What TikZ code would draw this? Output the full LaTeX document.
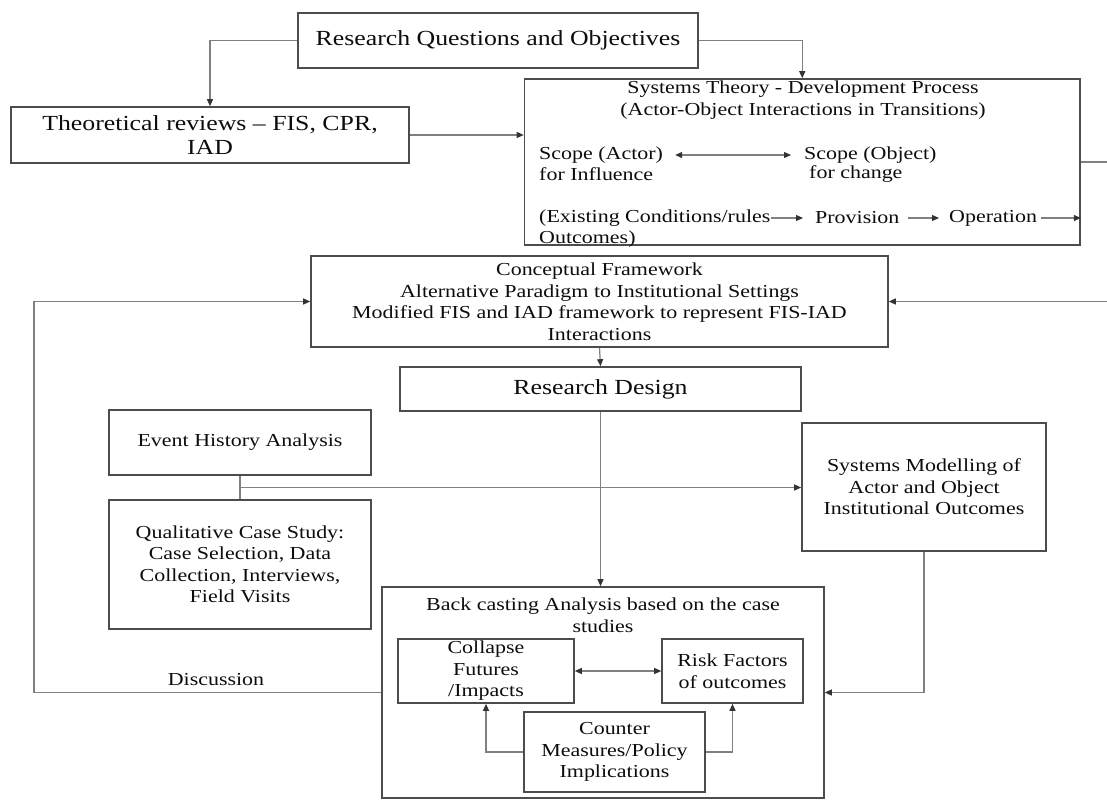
\documentclass[tikz,border=0pt]{standalone}
\usepackage{fontspec}
\setmainfont{Liberation Serif}[FakeStretch=1.2]
\usetikzlibrary{arrows.meta,calc}
\definecolor{bordc}{gray}{0.3}
\definecolor{linec}{gray}{0.5}
\definecolor{tipc}{gray}{0.2}
\definecolor{txtc}{gray}{0.05}
\newcommand\normsz{\fontsize{18.3}{21.5}\selectfont}
\newcommand\bigsz{\fontsize{21.5}{24}\selectfont}
\begin{document}
\begin{tikzpicture}[x=1pt,y=-1pt,
  box/.style={draw=bordc,line width=1.6pt,rectangle,inner sep=0pt,align=center,text=txtc,font=\normsz},
  big/.style={font=\bigsz},
  lbl/.style={inner sep=0pt,text=txtc,font=\normsz},
  conn/.style={draw=linec,line width=1.2pt},
  arr/.style={conn,-{Triangle[length=7pt,width=6pt,color=tipc]}},
  darr/.style={conn,{Triangle[length=7pt,width=6pt,color=tipc]}-{Triangle[length=7pt,width=6pt,color=tipc]}},
]
\fill[white] (0,0) rectangle (1107,800);
\useasboundingbox (0,0) rectangle (1107,800);

\node[box,big,minimum width=400pt,minimum height=55pt] (rq) at (498,40.5) {Research Questions and Objectives};
\node[box,big,minimum width=398pt,minimum height=56pt] (th) at (210,135) {Theoretical reviews -- FIS, CPR,\\IAD};

\node[box,minimum width=555.5pt,minimum height=166pt] (st) at (802.25,162) {};
\node[lbl,align=center] (stt) at (803,100) {Systems Theory - Development Process\\(Actor-Object Interactions in Transitions)};
\node[lbl,anchor=west] (sa1) at (539,155) {Scope (Actor)};
\node[lbl,anchor=west] (sa2) at (539,174) {for Influence};
\node[lbl,anchor=west] (so1) at (804,155) {Scope (Object)};
\node[lbl,anchor=west] (so2) at (809,174) {for change};
\node[lbl,anchor=west] (e1) at (539,218) {(Existing Conditions/rules};
\node[lbl,anchor=west] (e2) at (539,239) {Outcomes)};
\node[lbl,anchor=west] (pv) at (815,218) {Provision};
\node[lbl,anchor=west] (op) at (949,218) {Operation};

\node[box,minimum width=577pt,minimum height=91pt] (cf) at (599.5,301.5) {Conceptual Framework\\Alternative Paradigm to Institutional Settings\\Modified FIS and IAD framework to represent FIS-IAD\\Interactions};
\node[box,big,minimum width=401pt,minimum height=44pt] (rd) at (600.5,389) {Research Design};
\node[box,minimum width=262pt,minimum height=65pt] (eha) at (240,442.5) {Event History Analysis};
\node[box,minimum width=262pt,minimum height=129pt] (qcs) at (240,564.5) {Qualitative Case Study:\\Case Selection, Data\\Collection, Interviews,\\Field Visits};
\node[box,minimum width=244pt,minimum height=128pt] (sm) at (924,487) {Systems Modelling of\\Actor and Object\\Institutional Outcomes};
\node[box,minimum width=442pt,minimum height=211pt] (bc) at (603,692.5) {};
\node[lbl,align=center] (bct) at (603,615) {Back casting Analysis based on the case\\studies};
\node[box,minimum width=176pt,minimum height=64pt] (cl) at (486,671) {Collapse\\Futures\\/Impacts};
\node[box,minimum width=141pt,minimum height=64pt] (rk) at (732.5,671) {Risk Factors\\of outcomes};
\node[box,minimum width=181pt,minimum height=80pt] (cm) at (614.5,752) {Counter\\Measures/Policy\\Implications};
\node[lbl] (disc) at (216,680) {Discussion};

% connectors
\draw[arr] (rq.west) -| (th.north);
\draw[arr] (rq.east) -| (st.north);
\draw[arr] (th.east) -- (th.east -| st.west);
\draw[darr,shorten <=12pt,shorten >=13pt] (sa1.east) -- (so1.west);
\draw[arr,shorten >=12pt] (e1.east) -- (pv.west);
\draw[arr,shorten <=8pt,shorten >=10pt] (pv.east) -- (op.west);
\draw[arr,shorten <=4pt] (op.east) -- (op.east -| st.east);
\coordinate (rexit) at (1107,162);
\draw[conn] (st.east) -- (rexit);
\coordinate (rin) at (1107,301.5);
\draw[arr] (rin) -- (cf.east);
\coordinate (lc) at (34,301.5);
\draw[arr] (bc.west) -| (lc) -- (cf.west);
\draw[arr] (cf.south) -- (rd.north);
\draw[arr] (rd.south) -- (rd.south |- bc.north);
\draw[conn] (eha.south) -- (qcs.north);
\coordinate (jn) at ($(eha.south)!0.5!(qcs.north)$);
\draw[arr] (jn) -- (jn -| sm.west);
\draw[arr] (sm.south) |- (bc.east);
\draw[darr] (cl.east) -- (rk.west);
\draw[arr] (cm.west) -| (cl.south);
\draw[arr] (cm.east) -| (rk.south);
\end{tikzpicture}
\end{document}
